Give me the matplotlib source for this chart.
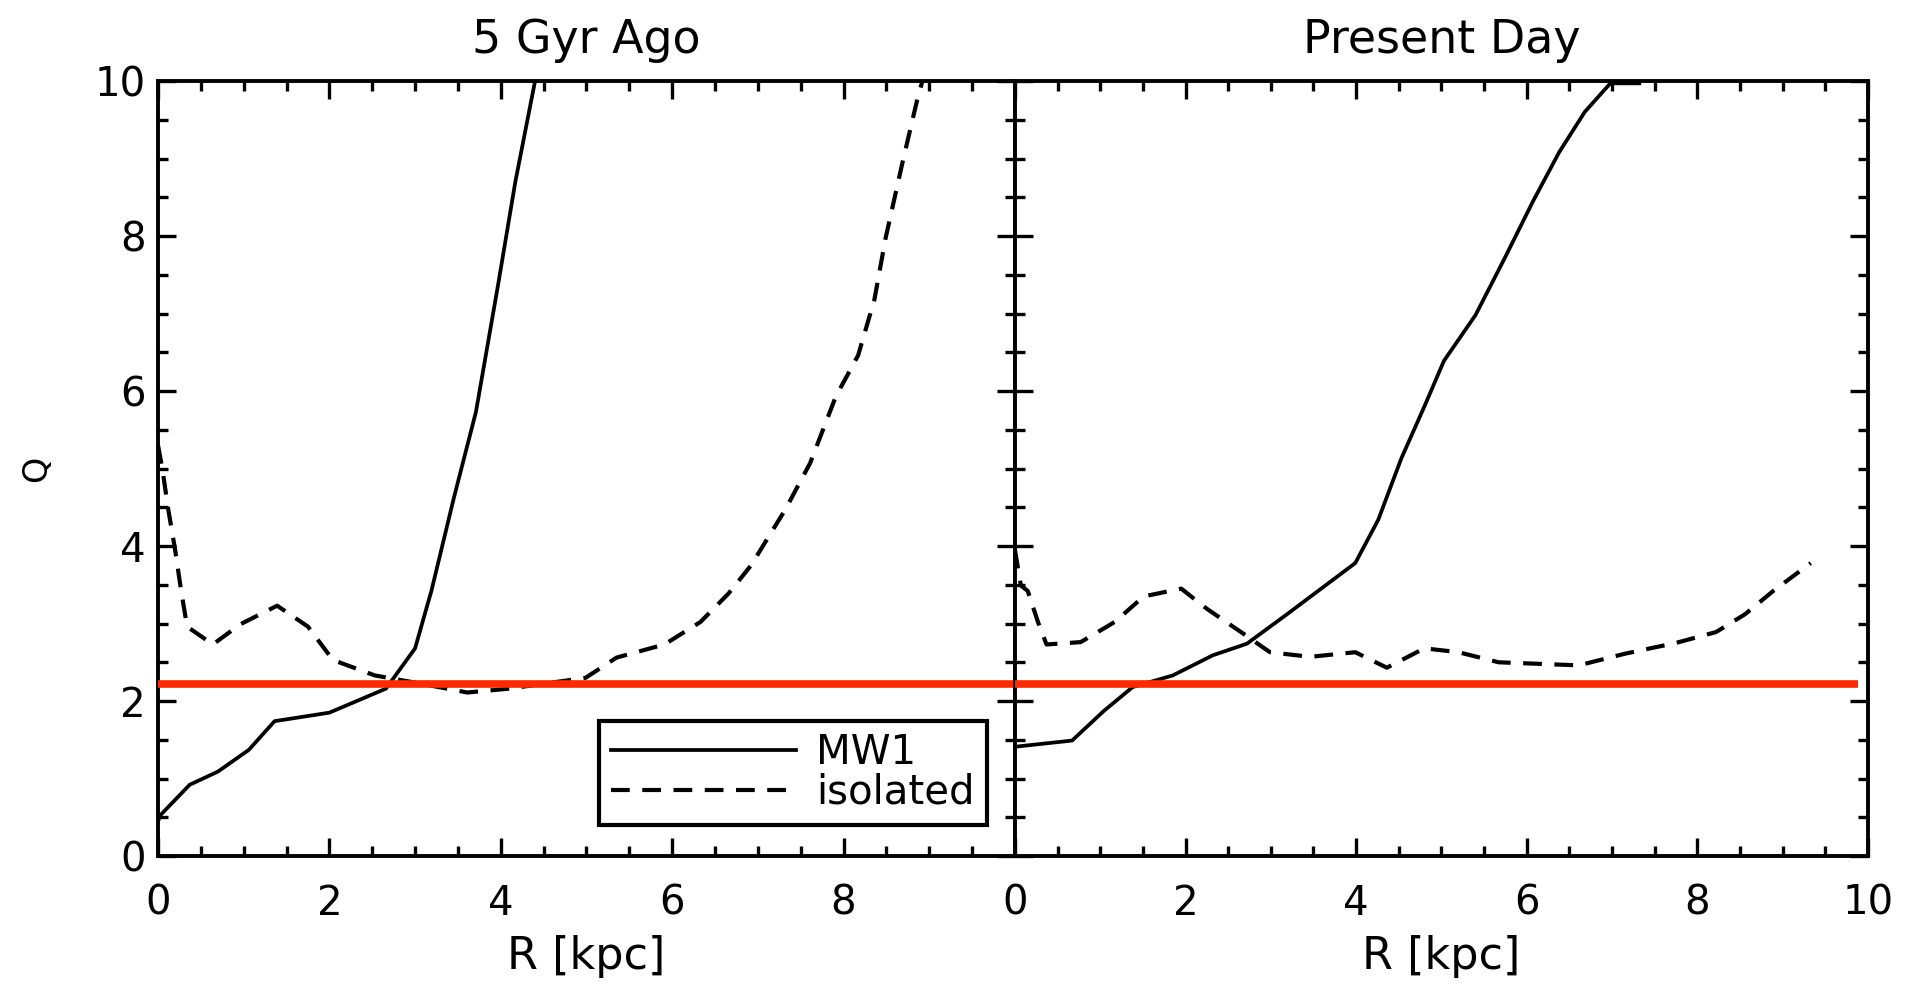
import matplotlib
matplotlib.use('Agg')
import matplotlib.pyplot as plt
import numpy as np

# values
r_mw1_old = [0.0, 0.03, 0.37, 0.70, 1.06, 1.36, 2.0, 2.66, 3.0, 3.19, 3.45, 3.71, 3.97, 4.17, 4.40]
q_mw1_old = [0.45, 0.53, 0.92, 1.09, 1.37, 1.74, 1.85, 2.16, 2.68, 3.42, 4.61, 5.73, 7.38, 8.70, 10.0]

r_iso_old = [0.0, 0.05, 0.12, 0.20, 0.27, 0.34, 0.64, 0.96, 1.39, 1.75, 2.04, 2.53, 2.99, 3.61, 4.1,
             4.99, 5.35, 5.91, 6.33, 6.66, 6.92, 7.32, 7.61, 7.91, 8.17, 8.36, 8.49, 8.69, 8.86, 8.92]
q_iso_old = [5.3, 5.0, 4.47, 3.95, 3.42, 2.96, 2.73, 2.99, 3.23, 2.96, 2.53, 2.33, 2.24, 2.11, 2.16,
             2.30, 2.56, 2.73, 3.02, 3.39, 3.75, 4.47, 5.07, 5.93, 6.46, 7.18, 7.97, 8.96, 9.76, 10.0]

r_mw1_now = [0.0, 0.67, 1.04, 1.38, 1.85, 2.32, 2.72, 3.19, 3.59, 3.99, 4.26, 4.53, 4.80, 5.03,
             5.40, 5.74, 6.07, 6.38, 6.68, 6.98, 7.32]
q_mw1_now = [1.41, 1.49, 1.87, 2.18, 2.33, 2.59, 2.74, 3.12, 3.45, 3.78, 4.34, 5.13, 5.80, 6.39,
             6.98, 7.71, 8.44, 9.08, 9.60, 9.97, 9.97]

r_iso_now = [0.0, 0.07, 0.15, 0.27, 0.37, 0.77, 1.17, 1.51, 1.95, 2.25, 2.65, 2.99, 3.46, 3.99,
             4.36, 4.80, 5.2, 5.67, 6.61, 7.15, 7.75, 8.22, 8.56, 8.89, 9.33]
q_iso_now = [3.95, 3.49, 3.42, 3.02, 2.73, 2.76, 3.02, 3.35, 3.45, 3.19, 2.89, 2.63, 2.57, 2.63,
             2.43, 2.68, 2.63, 2.50, 2.46, 2.61, 2.75, 2.89, 3.12, 3.42, 3.78]

q_crit = 2.22
r_crit_end = 9.88

titles = ['5 Gyr Ago', 'Present Day']

plt.rcParams['font.family'] = ['DejaVu Sans']

fig = plt.figure(figsize=(19.06, 9.94), dpi=100)
ax1 = fig.add_axes([0.0829, 0.1388, 0.4496, 0.7797])
ax2 = fig.add_axes([0.5325, 0.1388, 0.4475, 0.7797])

data = [(r_mw1_old, q_mw1_old, r_iso_old, q_iso_old),
        (r_mw1_now, q_mw1_now, r_iso_now, q_iso_now)]

for i, ax in enumerate([ax1, ax2]):
    rm, qm, ri, qi = data[i]
    ax.plot(rm, qm, color='black', lw=2.7, label='MW1')
    ax.plot(ri, qi, color='black', lw=3.0, ls=(0, (4.5, 3.0)), label='isolated')
    xend = 10 if i == 0 else r_crit_end
    ax.plot([0, xend], [q_crit, q_crit], color='#ff2a00', lw=5.5, solid_capstyle='butt',
            clip_on=False, zorder=5)
    ax.set_xlim(0, 10)
    ax.set_ylim(0, 10)
    ax.set_xticks(np.arange(0, 11, 2))
    ax.set_xticks(np.arange(0, 10.01, 0.5), minor=True)
    ax.set_yticks(np.arange(0, 11, 2))
    ax.set_yticks(np.arange(0, 10.01, 0.5), minor=True)
    ax.tick_params(which='both', direction='in', top=True, right=True, labelsize=29)
    ax.tick_params(axis='x', which='major', pad=20)
    ax.tick_params(axis='y', which='major', pad=9)
    ax.tick_params(which='major', length=13, width=2.4)
    ax.tick_params(which='minor', length=7, width=2.4)
    for sp in ax.spines.values():
        sp.set_linewidth(2.8)
    ax.set_title(titles[i], fontsize=33, pad=20)
    ax.set_xlabel('R [kpc]', fontsize=32, labelpad=8)

ax1.set_xticklabels(['0', '2', '4', '6', '8', ''])
ax2.set_yticklabels([])
ax1.set_ylabel('Q', fontsize=24, labelpad=30)

leg = ax1.legend(loc='lower right', bbox_to_anchor=(0.967, 0.04), fontsize=29, frameon=True,
                 fancybox=False, edgecolor='black', framealpha=1, handlelength=4.6,
                 handletextpad=0.5, borderpad=0.3, labelspacing=0.0, borderaxespad=0)
leg.get_frame().set_linewidth(3.0)
leg.set_zorder(10)

plt.savefig('out.png', dpi=100, facecolor='white')
